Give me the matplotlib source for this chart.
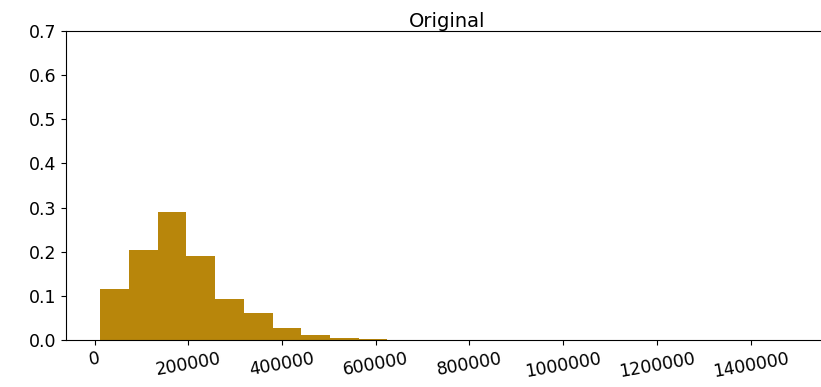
import matplotlib
matplotlib.use("Agg")
import matplotlib.pyplot as plt
import numpy as np

# Histogram data (relative frequencies per bin)
bin_start = 12000
bin_width = 61300
heights = [0.116, 0.203, 0.2895, 0.190, 0.0937, 0.061, 0.028, 0.011, 0.005, 0.002,
           0.001, 0.0006, 0.0003, 0.0002, 0.0001, 0.0001, 0.0, 0.0001, 0.0, 0.0,
           0.0, 0.0, 0.0, 0.0001]
xticks = [0, 200000, 400000, 600000, 800000, 1000000, 1200000, 1400000]
yticks = [0.0, 0.1, 0.2, 0.3, 0.4, 0.5, 0.6, 0.7]

edges = bin_start + bin_width * np.arange(len(heights) + 1)
lefts = edges[:-1]

fig = plt.figure(figsize=(8.21, 3.87), dpi=100)
ax = fig.add_axes([66 / 821, 1 - 340 / 387, (828 - 66) / 821, (340 - 31) / 387])
ax.hist(lefts, bins=edges, weights=heights, color="#B8860B")
ax.set_xlim(-61000, 1565000)
ax.set_ylim(0, 0.7)
ax.set_xticks(xticks)
ax.set_xticklabels([str(t) for t in xticks], rotation=10, fontsize=12.5)
ax.set_yticks(yticks)
ax.set_yticklabels([f"{t:.1f}" for t in yticks], fontsize=12.5)
ax.set_title("Original", fontsize=14, pad=3)
fig.savefig("out.png", dpi=100)
